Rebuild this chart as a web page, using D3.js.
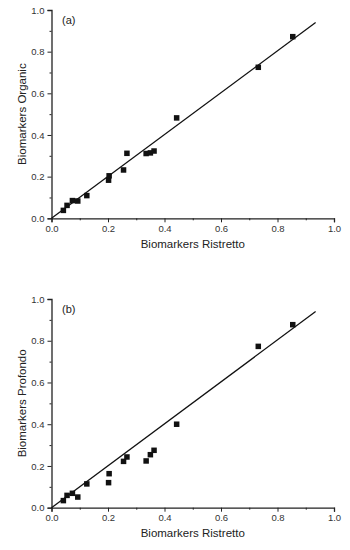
<!DOCTYPE html>
<html><head><meta charset="utf-8">
<script src="https://cdn.jsdelivr.net/npm/d3@7"></script>
<style>body{margin:0;background:#fff}svg{display:block}text{font-family:"Liberation Sans",Arial,sans-serif}</style>
</head><body><svg id="c" width="350" height="550"></svg>
<script>
const ristretto = [0.042, 0.055, 0.074, 0.093, 0.125, 0.202, 0.204, 0.255, 0.267, 0.335, 0.350, 0.363, 0.443, 0.732, 0.854];
const organic   = [0.038, 0.062, 0.085, 0.083, 0.109, 0.183, 0.204, 0.232, 0.312, 0.311, 0.314, 0.323, 0.482, 0.725, 0.872];
const profondo  = [0.034, 0.059, 0.069, 0.051, 0.114, 0.120, 0.163, 0.222, 0.243, 0.224, 0.254, 0.275, 0.400, 0.773, 0.877];
const fitLine = [[0, 0], [0.935, 0.94]];
const majorTicks = [0, 0.2, 0.4, 0.6, 0.8, 1.0];
const minorTicks = [0.1, 0.3, 0.5, 0.7, 0.9];
const panels = [
  {tag: "(a)", ylab: "Biomarkers Organic", y: organic, top: 10, bottom: 218.3},
  {tag: "(b)", ylab: "Biomarkers Profondo", y: profondo, top: 299, bottom: 507.7}
];
const svg = d3.select("#c");
const x = d3.scaleLinear().domain([0, 1]).range([51.5, 334]);
panels.forEach(p => {
  const y = d3.scaleLinear().domain([0, 1]).range([p.bottom, p.top]);
  const g = svg.append("g");
  g.append("g").attr("transform", `translate(${x(0)},0)`)
    .call(d3.axisLeft(y).tickValues(majorTicks).tickFormat(d3.format(".1f")).tickSize(4).tickPadding(3));
  g.append("g").attr("transform", `translate(${x(0)},0)`)
    .call(d3.axisLeft(y).tickValues(minorTicks).tickFormat("").tickSize(2)).select(".domain").remove();
  g.append("g").attr("transform", `translate(0,${y(0)})`)
    .call(d3.axisBottom(x).tickValues(majorTicks).tickFormat(d3.format(".1f")).tickSize(4).tickPadding(3));
  g.append("g").attr("transform", `translate(0,${y(0)})`)
    .call(d3.axisBottom(x).tickValues(minorTicks).tickFormat("").tickSize(2)).select(".domain").remove();
  g.selectAll(".domain").attr("stroke", "#222").attr("stroke-width", 1.3);
  g.selectAll(".tick line").attr("stroke", "#222").attr("stroke-width", 1);
  g.selectAll(".tick text").attr("font-size", 9.5).attr("fill", "#333")
    .attr("font-family", "'Liberation Sans',Arial,sans-serif");
  g.append("path").datum(fitLine)
    .attr("d", d3.line().x(d => x(d[0])).y(d => y(d[1])))
    .attr("fill", "none").attr("stroke", "#111").attr("stroke-width", 1.3);
  const s = 5.5;
  g.selectAll("rect.pt").data(ristretto.map((v, i) => [v, p.y[i]])).enter().append("rect")
    .attr("class", "pt")
    .attr("x", d => x(d[0]) - s / 2).attr("y", d => y(d[1]) - s / 2)
    .attr("width", s).attr("height", s).attr("fill", "#111");
  g.append("text").attr("x", 62).attr("y", p.top + 13.5).attr("font-size", 11).attr("fill", "#222").text(p.tag);
  g.append("text").attr("x", (x(0) + x(1)) / 2).attr("y", p.bottom + 29.5)
    .attr("text-anchor", "middle").attr("font-size", 11.5).attr("fill", "#222").text("Biomarkers Ristretto");
  g.append("text").attr("transform", `translate(25.5,${(p.top + p.bottom) / 2}) rotate(-90)`)
    .attr("text-anchor", "middle").attr("font-size", 11.5).attr("fill", "#222").text(p.ylab);
});
</script></body></html>
